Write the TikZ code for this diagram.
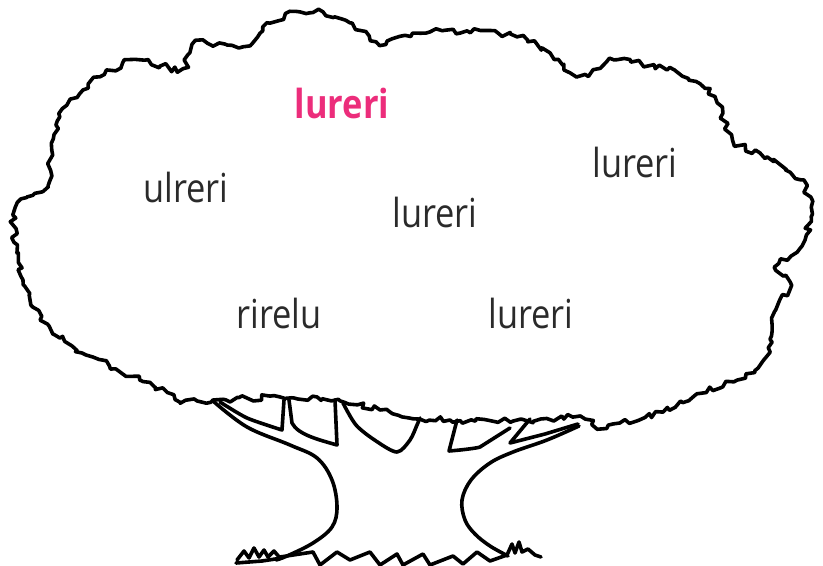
\documentclass[tikz,border=0pt]{standalone}
\usepackage{fontspec}
\setmainfont{Open Sans}[FakeStretch=0.86]
\usetikzlibrary{decorations.pathmorphing}
\definecolor{wordgray}{HTML}{2A2A2A}
\definecolor{wordpink}{HTML}{EC2D7B}
\tikzset{
  outline/.style={line width=3.6bp, line join=round, line cap=round, black},
  crown/.style={outline, decorate, decoration={random steps, segment length=5bp, amplitude=3.3bp}},
  word/.style={anchor=base, inner sep=0pt, text=wordgray, font=\fontsize{40bp}{44bp}\selectfont},
  keyword/.style={word, text=wordpink, font=\fontsize{40bp}{44bp}\selectfont\bfseries}
}
\begin{document}
\begin{tikzpicture}[x=1bp, y=-1bp]
\useasboundingbox (0,0) rectangle (823,566);
\clip (0,0) rectangle (823,566);
\pgfmathsetseed{7}
% canopy
\draw[crown] plot[smooth cycle, tension=0.45] coordinates {
 (27,197) (48,186) (52,150) (60,117) (83,90) (100,77) (133,60) (160,66) (183,68)
 (193,45) (225,44) (250,45) (267,23) (300,12) (323,12) (350,23) (380,45)
 (400,37) (430,32) (467,31) (517,37) (550,53) (577,76) (617,60) (667,70)
 (700,84) (717,103) (733,140) (767,157) (800,180) (811,207) (805,240) (797,252)
 (775,268) (789,283) (776,310) (765,358) (737,380) (697,394) (663,412)
 (613,424) (597,428) (580,417) (513,421) (450,420) (420,419) (380,410) (340,401)
 (280,397) (213,400) (180,402) (167,393) (93,357) (60,338) (33,307)
 (23,280) (17,253) (13,215)};
% trunk outer lines
\draw[outline] plot[smooth, tension=0.6] coordinates {
 (213,401) (247,427) (290,445) (317,458) (332,480) (337,507) (332,527) (313,543) (287,556) (276,560)};
\draw[outline] plot[smooth, tension=0.6] coordinates {
 (579,426) (547,440) (513,452) (490,463) (471,480) (462,500) (465,520) (475,534) (490,546) (508,556)};
% branch wedges
\draw[outline] plot[smooth, tension=0.4] coordinates {(220,402) (247,418) (282,430)} -- (284,400);
\draw[outline] (289,400) -- (292,423) .. controls (298,435) and (320,440) .. (337,445) -- (335,400);
\draw[outline] plot[smooth, tension=0.5] coordinates {(343,403) (356,425) (376,441) (397,452) (410,440) (417,425) (420,418)};
\draw[outline] (457,420) -- (449,451) .. controls (462,450) and (478,448) .. (480,447) -- (510,428);
\draw[outline] (530,419) -- (510,443) -- (545,434) -- (578,424);
% ground
\draw[outline] (237,560) -- (244,551) -- (249,558) -- (254,548) -- (259,557) -- (264,550) -- (268,557) -- (274,551) -- (280,558);
\draw[outline] (236,563) -- (262,561) -- (282,558);
\draw[outline] (280,557) -- (313,552) -- (320,565) -- (337,552) -- (350,560) -- (370,552) -- (380,565)
 -- (397,554) -- (403,565) -- (423,554) -- (430,565) -- (453,556) -- (463,564) -- (477,552) -- (490,561) -- (507,555);
\draw[outline] (507,555) -- (512,544) -- (515,553) -- (519,542) -- (522,552) -- (528,549) -- (535,555) -- (541,557);
% words
\node[keyword] (w1) at (342,119) {lureri};
\node[word] (w2) at (186,203) {ulreri};
\node[word] (w3) at (435,228) {lureri};
\node[word] (w4) at (635,178) {lureri};
\node[word] (w5) at (279,328) {rirelu};
\node[word] (w6) at (531,328) {lureri};
\end{tikzpicture}
\end{document}
